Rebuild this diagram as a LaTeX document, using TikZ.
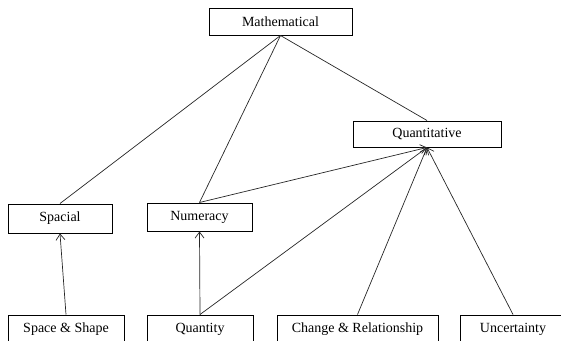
\documentclass[tikz,border=0pt]{standalone}
\usepackage{fontspec}
\setmainfont{Liberation Serif}
\usetikzlibrary{arrows.meta}
\begin{document}
\begin{tikzpicture}[
    x=1pt, y=-1pt,
    box/.style={rectangle, draw, line width=1pt, minimum height=27, inner sep=2pt, font=\fontsize{14}{16}\selectfont},
    link/.style={line width=0.7pt, draw=black!85},
    uplink/.style={link, -{Straight Barb[length=6pt, width=9pt]}}
]
\clip (0,0) rectangle (561,340);

% Level 1
\node[box, minimum width=143] (math) at (280.5, 21.5) {Mathematical};

% Level 2
\node[box, minimum width=148, minimum height=26] (quant) at (427, 134) {Quantitative};

% Level 3
\node[box, minimum width=104, minimum height=29] (spacial) at (60, 218.5) {Spacial};
\node[box, minimum width=105, minimum height=28] (numeracy) at (199.5, 217) {Numeracy};

% Content areas
\node[box, minimum width=116, minimum height=28] (spaceshape) at (66, 329) {Space \& Shape};
\node[box, minimum width=106, minimum height=28] (quantity) at (200, 329) {Quantity};
\node[box, minimum width=161, minimum height=28] (change) at (357.5, 329) {Change \& Relationship};
\node[box, minimum width=106, minimum height=28] (uncert) at (513, 329) {Uncertainty};

% Edges from Mathematical
\draw[link] (math.south) -- (spacial.north);
\draw[link] (math.south) -- (numeracy.north);
\draw[link] (math.south) -- (quant.north);

% Edges to Quantitative
\draw[uplink] (numeracy.north) -- (quant.south);
\draw[uplink] (quantity.north) -- (quant.south);
\draw[uplink] (change.north) -- (quant.south);
\draw[uplink] (uncert.north) -- (quant.south);

% Edges to Spacial and Numeracy
\draw[uplink] (spaceshape.north) -- (spacial.south);
\draw[uplink] (quantity.north) -- (numeracy.south);
\end{tikzpicture}
\end{document}
